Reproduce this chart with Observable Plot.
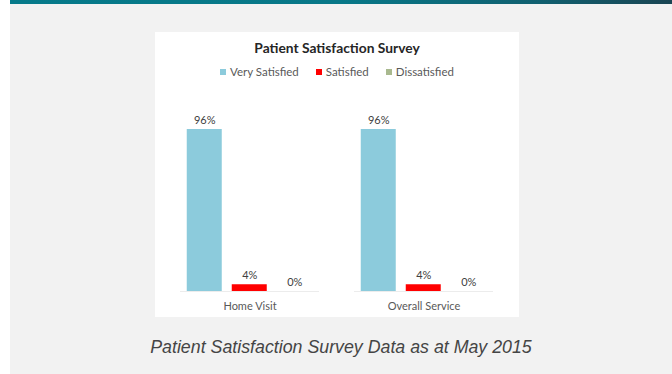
<!DOCTYPE html>
<html>
<head>
<meta charset="utf-8">
<script src="https://cdn.jsdelivr.net/npm/d3@7"></script>
<script src="https://cdn.jsdelivr.net/npm/@observablehq/plot@0.6"></script>
<style>
  body { margin: 0; width: 672px; height: 374px; overflow: hidden; position: relative; background: #fff; font-family: Lato, "Open Sans", sans-serif; }
  #panel { position: absolute; left: 10px; top: 0; width: 662px; height: 374px; background: #f2f2f2; }
  #band { position: absolute; left: 0; top: 0; width: 100%; height: 4px;
          background: linear-gradient(to right, #067a8a 0%, #087888 50%, #116070 80%, #1a4553 100%); }
  #card { position: absolute; left: 145px; top: 32px; width: 364px; height: 285px; background: #fff; }
  #title { position: absolute; left: 0; top: 6px; width: 100%; text-align: center; font-weight: bold; font-size: 13.8px; color: #262626; line-height: 20px; }
  #legend { position: absolute; left: 0; top: 33px; width: 100%; display: flex; justify-content: center; gap: 17px; font-size: 11.5px; color: #595959; line-height: 14px; }
  #legend span.sw { display: inline-block; width: 6px; height: 6px; margin-right: 4px; vertical-align: 1px; }
  #chart { position: absolute; left: 0; top: 55px; }
  #caption { position: absolute; left: 0; top: 337px; width: 100%; text-align: center; font-family: "Liberation Sans", Arial, sans-serif; font-style: italic; font-size: 17.8px; color: #454545; }
</style>
</head>
<body>
<div id="panel">
  <div id="band"></div>
  <div id="card">
    <div id="title">Patient Satisfaction Survey</div>
    <div id="legend"></div>
    <div id="chart"></div>
  </div>
  <div id="caption">Patient Satisfaction Survey Data as at May 2015</div>
</div>
<script>
// Survey categories and response shares (percent)
const groups = ["Home Visit", "Overall Service"];
const series = ["Very Satisfied", "Satisfied", "Dissatisfied"];
const homeVisit = [96, 4, 0];
const overallService = [96, 4, 0];
const colors = ["#8ccbdc", "#ff0000", "#a9b98f"];

const values = [homeVisit, overallService];
const rows = groups.flatMap((g, i) =>
  series.map((s, j) => ({group: g, series: s, value: values[i][j]}))
);

// Legend
const legend = document.getElementById("legend");
series.forEach((s, i) => {
  const item = document.createElement("div");
  const sw = document.createElement("span");
  sw.className = "sw";
  sw.style.background = colors[i];
  item.appendChild(sw);
  item.appendChild(document.createTextNode(s));
  legend.appendChild(item);
});

const chart = Plot.plot({
  width: 364,
  height: 230,
  marginTop: 42,
  marginBottom: 26,
  marginLeft: 7.25,
  marginRight: 7.75,
  style: {fontFamily: "Lato, 'Open Sans', sans-serif", fontSize: "11px", color: "#595959", background: "transparent"},
  fx: {domain: groups, paddingInner: 0.2, paddingOuter: 0.1, label: null, axis: "bottom", tickSize: 0, tickPadding: 11},
  x: {domain: series, paddingInner: 0.222, paddingOuter: 0.153, axis: null},
  y: {domain: [0, 96], axis: null},
  color: {domain: series, range: colors},
  marks: [
    Plot.ruleY([0], {stroke: "#ececec"}),
    Plot.barY(rows, {fx: "group", x: "series", y: "value", fill: "series"}),
    Plot.text(rows, {fx: "group", x: "series", y: "value", text: d => `${d.value}%`, dy: -9, fontSize: 11, fill: "#404040"})
  ]
});
document.getElementById("chart").appendChild(chart);
</script>
</body>
</html>
